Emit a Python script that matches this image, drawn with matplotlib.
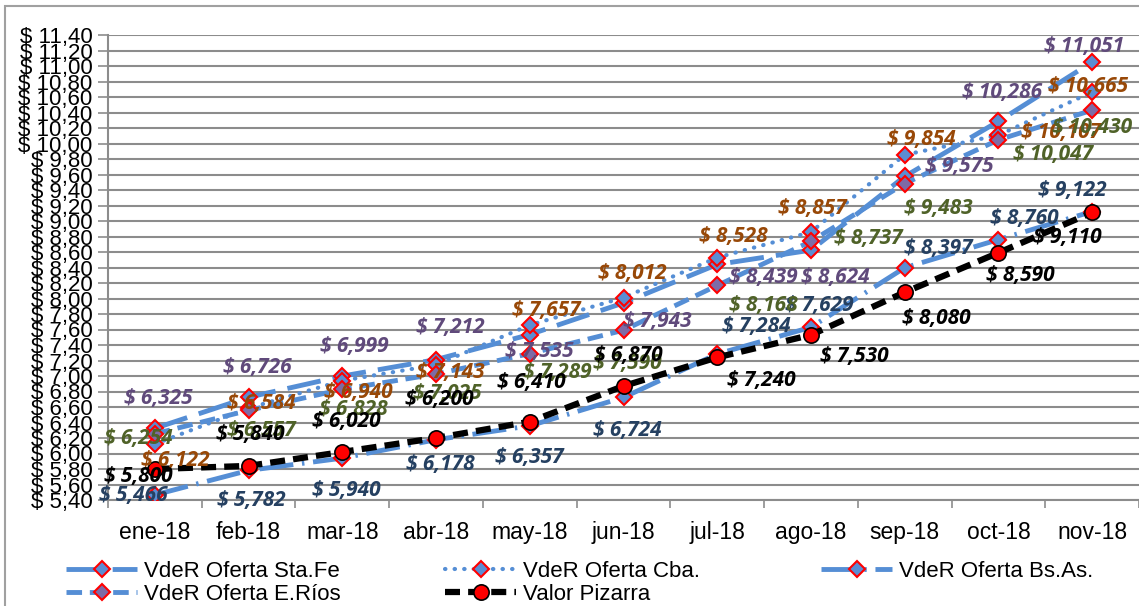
import matplotlib
matplotlib.use('Agg')
import matplotlib.pyplot as plt
import numpy as np
from matplotlib.patches import Rectangle

plt.rcParams['font.family'] = ['Liberation Sans', 'DejaVu Sans']

# data
months = ['ene-18', 'feb-18', 'mar-18', 'abr-18', 'may-18', 'jun-18',
          'jul-18', 'ago-18', 'sep-18', 'oct-18', 'nov-18']
sta_fe = [6.325, 6.726, 6.999, 7.212, 7.535, 7.943, 8.439, 8.624, 9.575, 10.286, 11.051]
cba = [6.122, 6.584, 6.940, 7.143, 7.657, 8.012, 8.528, 8.857, 9.854, 10.107, 10.665]
bs_as = [5.466, 5.782, 5.940, 6.178, 6.357, 6.724, 7.284, 7.629, 8.397, 8.760, 9.122]
e_rios = [6.254, 6.557, 6.828, 7.025, 7.289, 7.590, 8.168, 8.737, 9.483, 10.047, 10.430]
pizarra = [5.800, 5.840, 6.020, 6.200, 6.410, 6.870, 7.240, 7.530, 8.080, 8.590, 9.110]

# label offsets (pixels, dx right, dy down)
off_sta_fe = [(3, -30), (9, -30), (12, -30), (14, -32), (10, 17), (34, 19),
              (46, 13), (24, 27), (55, -10), (4, -29), (-8, -16)]
off_cba = [(20, 16), (13, -5), (16, 12), (14, 8), (17, -15), (9, -24),
           (16, -21), (1, -24), (17, -15), (63, -3), (-4, -5)]
off_bs_as = [(-22, 1), (3, 30), (4, 32), (4, 25), (0, 32), (4, 33),
             (39, -27), (8, -22), (34, -19), (26, -21), (-20, -21)]
off_e_rios = [(-17, 5), (13, 20), (11, 20), (11, 19), (28, 19), (4, 33),
              (46, 20), (57, -3), (34, 25), (55, 15), (0, 17)]
off_pizarra = [(-17, 7), (2, -31), (4, -30), (3, -39), (2, -39), (5, -31),
               (44, 23), (43, 22), (32, 26), (22, 23), (-25, 25)]

W, H = 1139, 606
fig = plt.figure(figsize=(W / 100, H / 100), dpi=100)
ax = fig.add_axes([108 / W, 1 - 500 / H, (W - 108) / W, (500 - 35) / H])

x = np.arange(len(months))
blue = '#558ED5'

l1, = ax.plot(x, sta_fe, color=blue, lw=3.5, dashes=(7, 2.5), marker='D', ms=8,
              mfc='#5B8DD3', mec='red', mew=1.5, label='VdeR Oferta Sta.Fe', zorder=3)
l2, = ax.plot(x, cba, color=blue, lw=3, dashes=(0.1, 2.2), dash_capstyle='round',
              marker='D', ms=8, mfc='#5B8DD3', mec='red', mew=1.5,
              label='VdeR Oferta Cba.', zorder=3)
l3, = ax.plot(x, bs_as, color=blue, lw=3.5, dashes=(7, 1.8, 0.5, 1.8), marker='D', ms=8,
              mfc='#5B8DD3', mec='red', mew=1.5, label='VdeR Oferta Bs.As.', zorder=3)
l4, = ax.plot(x, e_rios, color=blue, lw=3.5, dashes=(3.2, 1.6), marker='D', ms=8,
              mfc='#7E6BA6', mec='red', mew=1.5, label='VdeR Oferta E.Ríos', zorder=3)
l5, = ax.plot(x, pizarra, color='black', lw=4.5, dashes=(2.4, 1.3), marker='o', ms=11,
              mfc='red', mec='black', mew=1.2, label='Valor Pizarra', zorder=4)

lab_font = dict(family=['Open Sans', 'DejaVu Sans'], fontsize=15,
                fontweight='bold', fontstyle='italic', ha='center', va='center')

def put_labels(vals, offs, col):
    for i, (v, o) in enumerate(zip(vals, offs)):
        txt = '$ ' + f'{v:.3f}'.replace('.', ',')
        ax.annotate(txt, (x[i], v), xytext=(o[0], -o[1]), textcoords='offset pixels',
                    color=col, zorder=5, **lab_font)

put_labels(sta_fe, off_sta_fe, '#604A7B')
put_labels(cba, off_cba, '#984807')
put_labels(bs_as, off_bs_as, '#254061')
put_labels(e_rios, off_e_rios, '#4F6228')
put_labels(pizarra, off_pizarra, 'black')

# axes
ax.set_xlim(-0.5, len(months) - 0.5)
ax.set_ylim(5.40, 11.40)
yt = np.arange(5.40, 11.41, 0.20)
ax.set_yticks(yt)
ax.set_yticklabels(['$ ' + f'{v:.2f}'.replace('.', ',') for v in yt], fontsize=16)
ax.set_xticks(x)
ax.set_xticklabels(months, fontsize=16.5)
ax.set_xticks(np.arange(-0.5, len(months)), minor=True)
ax.tick_params(axis='x', which='major', length=0, pad=15)
ax.tick_params(axis='x', which='minor', length=6, color='#8c8c8c', width=1.2)
ax.tick_params(axis='y', length=7, color='#8c8c8c', width=1.2, pad=4)
ax.grid(axis='y', color='#8c8c8c', lw=1.5)
ax.set_axisbelow(True)
for s in ['top', 'right']:
    ax.spines[s].set_visible(False)
for s in ['left', 'bottom']:
    ax.spines[s].set_color('#8c8c8c')
    ax.spines[s].set_linewidth(1.5)

# legend, one block per column, laid out row-wise like the original
leg_kw = dict(loc='upper left', frameon=False, fontsize=16, handlelength=3.2,
              handletextpad=0.3, labelspacing=0.08, borderpad=0, borderaxespad=0)
fig.legend([l1, l4], [l1.get_label(), l4.get_label()],
           bbox_to_anchor=(66 / W, 1 - 561 / H), **leg_kw)
fig.legend([l2, l5], [l2.get_label(), l5.get_label()],
           bbox_to_anchor=(445 / W, 1 - 561 / H), **leg_kw)
fig.legend([l3], [l3.get_label()],
           bbox_to_anchor=(821 / W, 1 - 561 / H), **leg_kw)

# chart frame (bottom edge falls just outside the picture)
fig.patches.append(Rectangle((5 / W, -0.02), 1.0, 1.02 - 6 / H, transform=fig.transFigure,
                             fill=False, edgecolor='#a0a0a0', lw=1.5))

fig.savefig('out.png', dpi=100)
